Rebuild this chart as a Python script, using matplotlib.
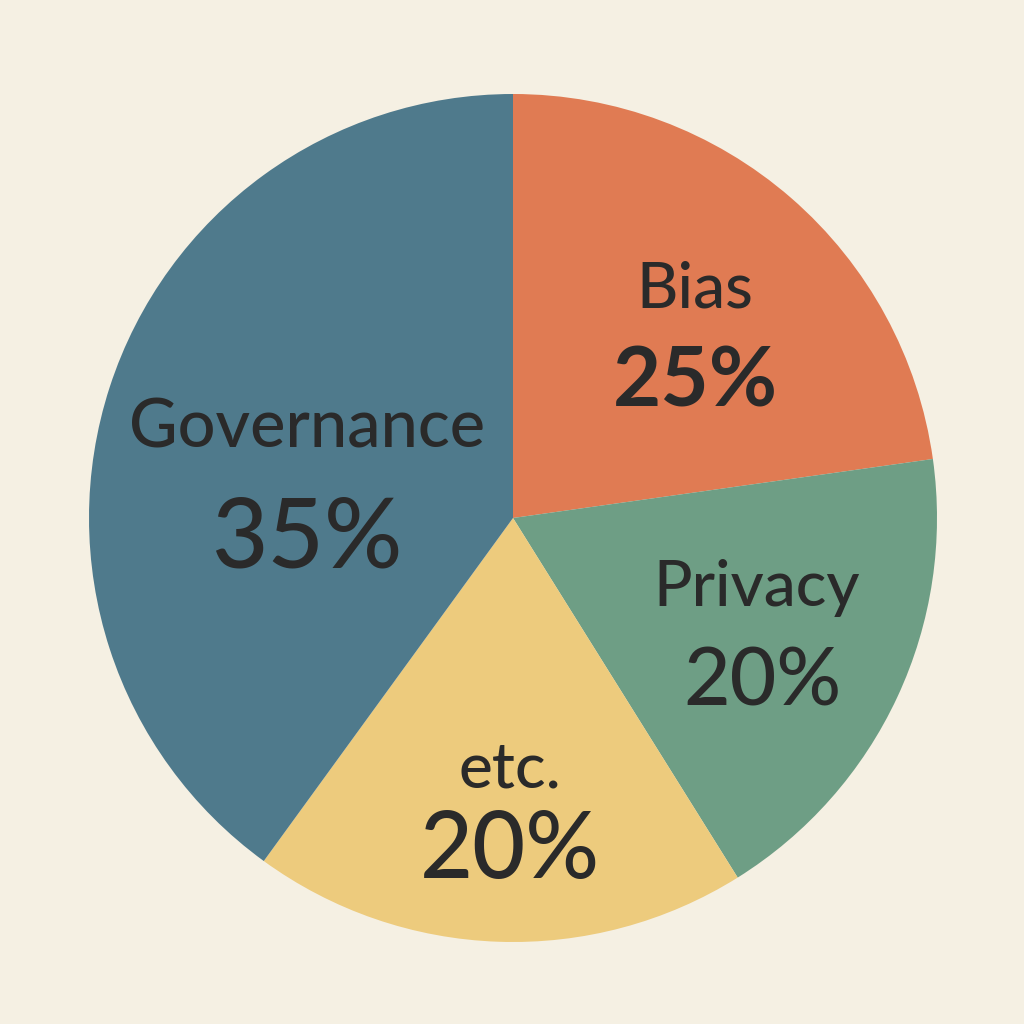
import matplotlib
matplotlib.use("Agg")
import matplotlib.pyplot as plt

categories = ["Bias", "Privacy", "etc.", "Governance"]
label_pct = [25, 20, 20, 35]            # percentages as printed
wedge_deg = [82, 66, 68, 144]           # slice sizes as drawn in the picture
colors = ["#E07B53", "#6E9E85", "#EDCB7D", "#4F7A8C"]
bg = "#F5F0E3"

fig = plt.figure(figsize=(10.24, 10.24), dpi=100, facecolor=bg)
ax = fig.add_axes([0, 0, 1, 1])
ax.set_facecolor(bg)

ax.pie(wedge_deg, colors=colors, startangle=90, counterclock=False,
       center=(513, 1024 - 518), radius=424, frame=True,
       wedgeprops=dict(linewidth=0))
ax.set_xlim(0, 1024)
ax.set_ylim(0, 1024)
ax.set_aspect("equal")
ax.axis("off")

# (name x, name y, pct x, pct y, name size, pct size, pct weight) in pixels from top
pos = {"Bias": (695, 290, 695, 383, 46, 60, "bold"),
       "Privacy": (757, 588, 762, 682, 46, 58, "medium"),
       "etc.": (510, 770, 510, 852, 46, 66, "medium"),
       "Governance": (307, 428, 307, 540, 48, 70, "medium")}
tc = "#2a2a2a"
for c, v in zip(categories, label_pct):
    x1, y1, x2, y2, s1, s2, w = pos[c]
    ax.text(x1, 1024 - y1, c, ha="center", va="center", fontsize=s1,
            family="Lato", fontweight="medium", color=tc)
    ax.text(x2, 1024 - y2, f"{v}%", ha="center", va="center",
            fontsize=s2, family="Lato", fontweight=w, color=tc)

fig.savefig("out.png", dpi=100, facecolor=bg)
